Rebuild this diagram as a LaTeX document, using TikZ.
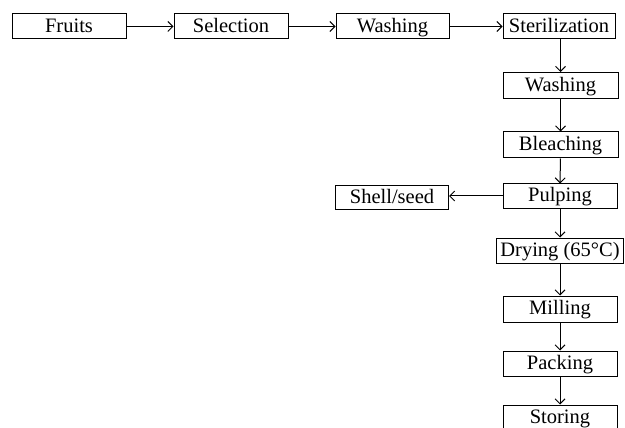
\documentclass[tikz,border=0pt]{standalone}
\usepackage{fontspec}
\setmainfont{Liberation Serif}
\usetikzlibrary{arrows.meta}
\begin{document}
\begin{tikzpicture}[x=1pt,y=-1pt,
  box/.style={draw,line width=1pt,minimum height=25pt,inner sep=0pt,text height=15pt,text depth=3.5pt,font=\fontsize{20.5}{22}\selectfont},
  arr/.style={line width=1pt,-{Straight Barb[length=5pt,width=10pt,line width=1pt]}}]
\clip (0,0) rectangle (625,428);
\useasboundingbox (0,0) rectangle (625,428);
\node[box,minimum width=114pt] (fruits) at (69,26.5) {Fruits};
\node[box,minimum width=114pt] (sel) at (231,26.5) {Selection};
\node[box,minimum width=113pt] (wash1) at (392.5,26.5) {Washing};
\node[box,minimum width=112pt] (ster) at (559,26.5) {Sterilization};
\node[box,minimum width=115pt,minimum height=26pt] (wash2) at (560.5,85.5) {Washing};
\node[box,minimum width=115pt,minimum height=26pt] (bleach) at (560.5,145) {Bleaching};
\node[box,minimum width=114pt,minimum height=24pt] (pulp) at (560,196) {Pulping};
\node[box,minimum width=113pt,minimum height=24pt] (shell) at (392,197.5) {Shell/seed};
\node[box,minimum width=127pt] (dry) at (560,250.5) {Drying (65\textdegree C)};
\node[box,minimum width=114pt,minimum height=26pt] (mill) at (560,309) {Milling};
\node[box,minimum width=114pt] (pack) at (560,363.5) {Packing};
\node[box,minimum width=114pt,minimum height=26pt] (store) at (560,418) {Storing};
\draw[arr] (fruits) -- (sel);
\draw[arr] (sel) -- (wash1);
\draw[arr] (wash1) -- (ster);
\draw[arr] (ster.south -| wash2.north) -- (wash2.north);
\draw[arr] (wash2) -- (bleach);
\draw[arr] (bleach) -- (pulp);
\draw[arr] (pulp.west) -- (pulp.west -| shell.east);
\draw[arr] (pulp) -- (dry);
\draw[arr] (dry) -- (mill);
\draw[arr] (mill) -- (pack);
\draw[arr] (pack) -- (store);
\end{tikzpicture}
\end{document}
